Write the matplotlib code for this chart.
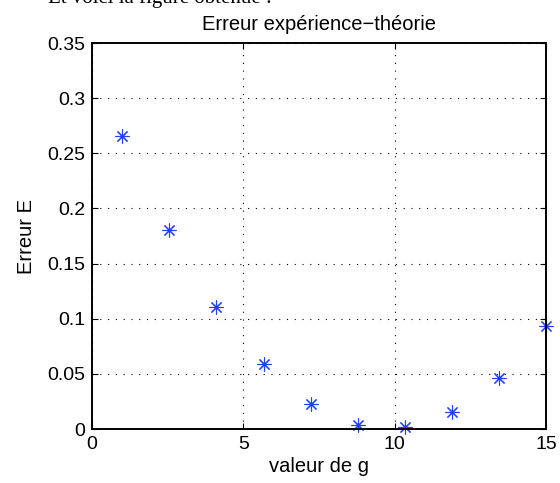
import matplotlib
matplotlib.use("Agg")
import matplotlib.pyplot as plt

g_values = [1.0, 2.556, 4.111, 5.667, 7.222, 8.778, 10.333, 11.889, 13.444, 15.0]
erreur_E = [0.2657, 0.1800, 0.1107, 0.0587, 0.0229, 0.0039, 0.0015, 0.0151, 0.0458, 0.0930]
x_ticks = [0, 5, 10, 15]
y_ticks = [0, 0.05, 0.1, 0.15, 0.2, 0.25, 0.3, 0.35]
y_tick_labels = ["0", "0.05", "0.1", "0.15", "0.2", "0.25", "0.3", "0.35"]

plt.rcParams['font.family'] = ['Liberation Sans', 'DejaVu Sans']

fig = plt.figure(figsize=(5.6, 4.83), dpi=100)
ax = fig.add_axes([92/560, 1 - 429/483, (546-92)/560, (429-43)/483])

ax.plot(g_values, erreur_E, linestyle='none', marker=(8, 2, 0), markersize=10,
        markeredgewidth=0.8, color='#1f3fff', clip_on=False)

ax.set_xlim(0, 15)
ax.set_ylim(0, 0.35)
ax.set_xticks(x_ticks)
ax.set_xticklabels([str(t) for t in x_ticks])
ax.set_yticks(y_ticks)
ax.set_yticklabels(y_tick_labels)
ax.tick_params(direction='in', length=4, width=0.8, labelsize=14, top=True, right=True,
               pad=5)
for s in ax.spines.values():
    s.set_linewidth(1.4)
ax.grid(True, color='black', linestyle=(0, (1, 6)), linewidth=0.8)

ax.set_title("Erreur expérience\u2212théorie", fontsize=14.5, pad=9)
ax.set_xlabel("valeur de g", fontsize=14.5, labelpad=3)
ax.set_ylabel("Erreur E", fontsize=14.5, labelpad=8)

fig.text(48/560, 1 - 2.5/483, "Et voici la figure obtenue :", fontsize=15,
         family='Liberation Serif', va='baseline', ha='left')

fig.savefig("out.png", dpi=100)
